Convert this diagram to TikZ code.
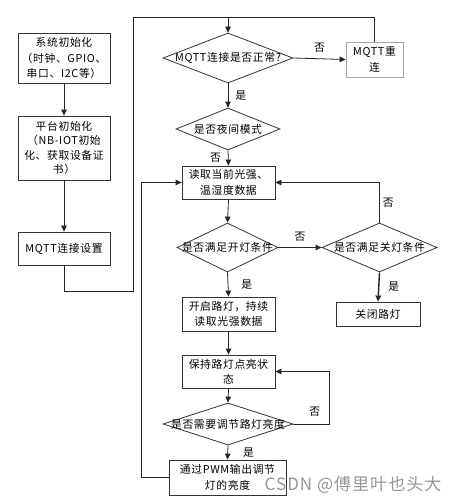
\documentclass[tikz,border=0pt]{standalone}
\usepackage{fontspec}
\setmainfont[LetterSpace=6]{Noto Sans CJK SC}
\usepackage{tikz}
\usetikzlibrary{shapes.geometric,arrows.meta}
\tikzstyle{process}=[draw=black!80,line width=0.8pt,align=center,inner sep=1pt]
\tikzstyle{decision}=[diamond,draw=black!80,line width=0.8pt,inner sep=0pt]
\tikzstyle{line}=[draw=black!85,line width=0.8pt]
\tikzstyle{arrow}=[line,-{Triangle[length=6pt,width=5.5pt]}]
\tikzstyle{branch}=[inner sep=1pt]

\begin{document}
\begin{tikzpicture}[x=1pt,y=-1pt,font=\fontsize{10.8}{15.5}\selectfont]
	\useasboundingbox (0,0) rectangle (465,503);
	% left column
	\node[process,minimum width=92pt,minimum height=50pt] (init) at (64,58) {系统初始化\\（时钟、GPIO、\\串口、I2C等）};
	\node[process,minimum width=92pt,minimum height=64pt,font=\fontsize{10.8}{14.5}\selectfont] (platform) at (64,148) {平台初始化\\（NB-IOT初始\\化、获取设备证\\书）};
	\node[process,minimum width=92pt,minimum height=33pt] (mqttset) at (64,248.5) {MQTT连接设置};
	% main column
	\node[decision,minimum width=130pt,minimum height=50pt,label=center:{MQTT连接是否正常?}] (check) at (228,58) {};
	\node[process,draw=black!35,minimum width=57pt,minimum height=35pt] (reconnect) at (374.5,59.5) {MQTT重\\连};
	\node[decision,minimum width=104pt,minimum height=42pt,label=center:{是否夜间模式}] (night) at (228,129) {};
	\node[process,minimum width=93pt,minimum height=33pt] (read) at (228.5,182.5) {读取当前光强、\\温湿度数据};
	\node[decision,minimum width=101pt,minimum height=49pt,label=center:{是否满足开灯条件}] (onq) at (227.5,247.5) {};
	\node[decision,minimum width=115pt,minimum height=49pt,label=center:{是否满足关灯条件}] (offq) at (379.5,247.5) {};
	\node[process,minimum width=84pt,minimum height=24pt] (lampoff) at (378,314) {关闭路灯};
	\node[process,minimum width=93pt,minimum height=34pt] (lampon) at (228.5,314) {开启路灯，持续\\读取光强数据};
	\node[process,minimum width=93pt,minimum height=33pt] (keep) at (228.5,371.5) {保持路灯点亮状\\态};
	\node[decision,minimum width=130pt,minimum height=42pt,label=center:{是否需要调节路灯亮度}] (adjust) at (228,424) {};
	\node[process,minimum width=117pt,minimum height=35pt] (pwm) at (227.5,477.5) {通过PWM输出调节\\灯的亮度};

	\coordinate (leftbus) at (133,291);
	\coordinate (topjoin) at (228,17);
	\coordinate (adjright) at (329,371.5);
	\coordinate (leftloop) at (141,477.5);

	\draw[arrow] (init) -- (platform);
	\draw[arrow] (platform) -- (mqttset);
	\draw[arrow] (mqttset.south) |- (leftbus) |- (topjoin) -- (check.north);
	\draw[line] (reconnect.north) |- (topjoin);
	\draw[arrow] (check.east) -- node[branch,above=5pt] {否} (reconnect.west);
	\draw[arrow] (check.south) -- node[branch,right=6pt] {是} (night.north);
	\draw[arrow] (night.south) -- node[branch,left=6pt] {否} (read.north);
	\draw[arrow] (read.south) -- (onq.north);
	\draw[arrow] (onq.east) -- node[branch,above=5pt] {否} (offq.west);
	\draw[arrow] (offq.north) |- node[branch,pos=0.25,right=2pt] {否} (read.east);
	\draw[arrow,line width=1.4pt] (offq.south) -- node[branch,right=8pt] {是} (lampoff.north);
	\draw[arrow] (onq.south) -- node[branch,right=12pt] {是} (lampon.north);
	\draw[arrow] (lampon) -- (keep);
	\draw[arrow] (keep.south) -- (adjust.north);
	\draw[arrow] (adjust.east) -| node[branch,pos=0.3,above=6pt] {否} (adjright) -- (keep.east);
	\draw[arrow] (adjust.south) -- node[branch,right=14pt] {是} (pwm.north);
	\draw[arrow] (pwm.west) -- (leftloop) |- (read.west);

	\node[text={rgb,255:red,150;green,150;blue,150},font=\fontsize{17}{17}\selectfont] (watermark) at (353,485) {CSDN @傅里叶也头大};
\end{tikzpicture}
\end{document}
